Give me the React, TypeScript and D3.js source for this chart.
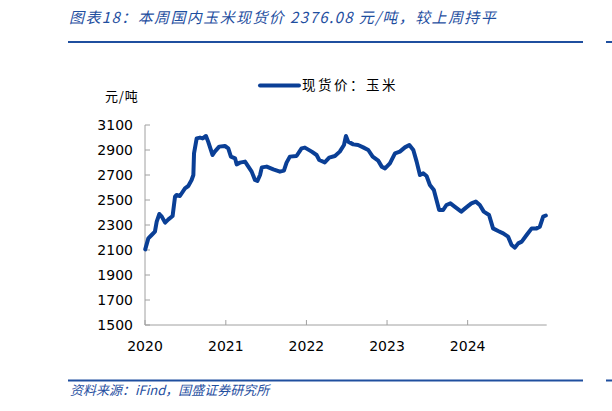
import React from "react";
import * as d3 from "d3";

const dates: string[] = [
  "2020-01-02","2020-01-16","2020-01-31","2020-02-15","2020-02-23","2020-03-06","2020-03-17","2020-04-01",
  "2020-04-16","2020-05-05","2020-05-16","2020-05-23","2020-06-07","2020-06-30","2020-07-15","2020-07-30",
  "2020-08-07","2020-08-10","2020-08-22","2020-09-06","2020-09-18","2020-10-03","2020-10-13","2020-11-02",
  "2020-11-12","2020-12-02","2020-12-28","2021-01-12","2021-01-24","2021-02-12","2021-02-19","2021-03-06",
  "2021-03-29","2021-04-13","2021-04-28","2021-05-13","2021-05-24","2021-06-05","2021-06-13","2021-07-05",
  "2021-08-04","2021-09-03","2021-09-21","2021-10-03","2021-10-18","2021-11-17","2021-12-10","2021-12-25",
  "2022-01-25","2022-02-16","2022-02-28","2022-03-25","2022-04-14","2022-05-10","2022-06-01","2022-06-20",
  "2022-06-29","2022-07-09","2022-08-01","2022-08-23","2022-09-15","2022-10-08","2022-10-28","2022-11-22",
  "2022-12-08","2022-12-23","2023-01-14","2023-02-06","2023-02-28","2023-03-23","2023-04-12","2023-04-30",
  "2023-05-15","2023-05-30","2023-06-14","2023-06-29","2023-07-14","2023-08-01","2023-08-13","2023-08-25",
  "2023-09-12","2023-09-27","2023-10-15","2023-11-03","2023-12-03","2023-12-26","2024-01-18","2024-02-07",
  "2024-02-25","2024-03-14","2024-04-07","2024-04-25","2024-05-18","2024-06-10","2024-07-02","2024-07-18",
  "2024-08-02","2024-08-17","2024-09-02","2024-09-24","2024-10-17","2024-11-08","2024-11-23","2024-12-08",
  "2024-12-20"
];

const prices: number[] = [
  2105,2193,2220,2247,2327,2388,2367,2319,
  2345,2372,2527,2540,2532,2593,2612,2660,
  2700,2873,2993,2999,2993,3012,2967,2860,
  2887,2927,2932,2913,2847,2833,2785,2799,
  2807,2767,2727,2660,2652,2700,2761,2767,
  2745,2727,2735,2799,2847,2852,2913,2919,
  2887,2860,2820,2801,2839,2852,2887,2940,
  3012,2967,2945,2940,2921,2900,2847,2815,
  2767,2753,2793,2873,2887,2921,2940,2900,
  2807,2700,2713,2692,2620,2580,2500,2420,
  2420,2460,2473,2447,2407,2441,2473,2487,
  2460,2407,2380,2273,2252,2233,2207,2140,
  2119,2153,2167,2220,2273,2273,2287,2367,
  2376
];

const yTicks: number[] = [1500, 1700, 1900, 2100, 2300, 2500, 2700, 2900, 3100];
const xTickYears: number[] = [2020, 2021, 2022, 2023, 2024];

const titleText = "图表18：本周国内玉米现货价 2376.08 元/吨，较上周持平";
const sourceText = "资料来源：iFind，国盛证券研究所";
const seriesName = "现货价：玉米";
const unitText = "元/吨";

const BLUE = "#0a3f96";
const RULE = "#1f4f9f";
const AXIS = "#a0a0a0";

export default function App() {
  const W = 612, H = 411;
  const parse = d3.timeParse("%Y-%m-%d");
  const data = dates.map((d, i) => ({ date: parse(d) as Date, value: prices[i] }));

  const x = d3.scaleTime()
    .domain([new Date(2020, 0, 1), new Date(2024, 11, 24)])
    .range([145, 546.7]);
  const y = d3.scaleLinear().domain([1500, 3100]).range([325, 125]);

  const line = d3.line<{ date: Date; value: number }>()
    .x(d => x(d.date))
    .y(d => y(d.value))
    .curve(d3.curveLinear);

  const sans = "Tahoma, 'DejaVu Sans', 'Liberation Sans', sans-serif";
  const cjk = "'Noto Sans CJK SC', sans-serif";

  return (
    <svg width={W} height={H} style={{ position: "absolute", left: 0, top: 0, background: "#fff" }}>
      {/* title */}
      <text x={69} y={23} fill={RULE} fontSize={15} letterSpacing={1.4} fontStyle="italic" fontFamily={cjk}>{titleText}</text>
      <line x1={68} x2={583} y1={42} y2={42} stroke={RULE} strokeWidth={2} />
      <line x1={606} x2={612} y1={42} y2={42} stroke={RULE} strokeWidth={2} />

      {/* legend */}
      <line x1={260} x2={299} y1={85.5} y2={85.5} stroke={BLUE} strokeWidth={4} strokeLinecap="round" />
      <text x={302} y={90} fontSize={13.5} letterSpacing={2.5} fontFamily={cjk} fill="#000">{seriesName}</text>

      {/* unit */}
      <text x={105} y={101} fontSize={13} letterSpacing={0.8} fontFamily={cjk} fill="#000">{unitText}</text>

      {/* y axis */}
      <line x1={145} x2={145} y1={125} y2={325} stroke={AXIS} strokeWidth={1} />
      {yTicks.map(t => (
        <g key={t}>
          <line x1={145} x2={150} y1={y(t)} y2={y(t)} stroke={AXIS} strokeWidth={1} />
          <text x={133} y={y(t) + 5} textAnchor="end" fontSize={14} fontFamily={sans} fill="#000">{t}</text>
        </g>
      ))}

      {/* x axis */}
      <line x1={145} x2={546.7} y1={325} y2={325} stroke={AXIS} strokeWidth={1} />
      {xTickYears.map(yr => {
        const px = x(new Date(yr, 0, 1));
        return (
          <g key={yr}>
            <line x1={px} x2={px} y1={320} y2={325} stroke={AXIS} strokeWidth={1} />
            <text x={px} y={351} textAnchor="middle" fontSize={14} fontFamily={sans} fill="#000">{yr}</text>
          </g>
        );
      })}

      {/* series */}
      <path d={line(data) || ""} fill="none" stroke={BLUE} strokeWidth={4}
        strokeLinejoin="round" strokeLinecap="round" />

      {/* footer */}
      <line x1={68} x2={583} y1={380.5} y2={380.5} stroke={RULE} strokeWidth={2} />
      <line x1={606} x2={612} y1={380.5} y2={380.5} stroke={RULE} strokeWidth={2} />
      <text x={70} y={395} fill={RULE} fontSize={13} fontStyle="italic" fontFamily={cjk}>{sourceText}</text>
    </svg>
  );
}
